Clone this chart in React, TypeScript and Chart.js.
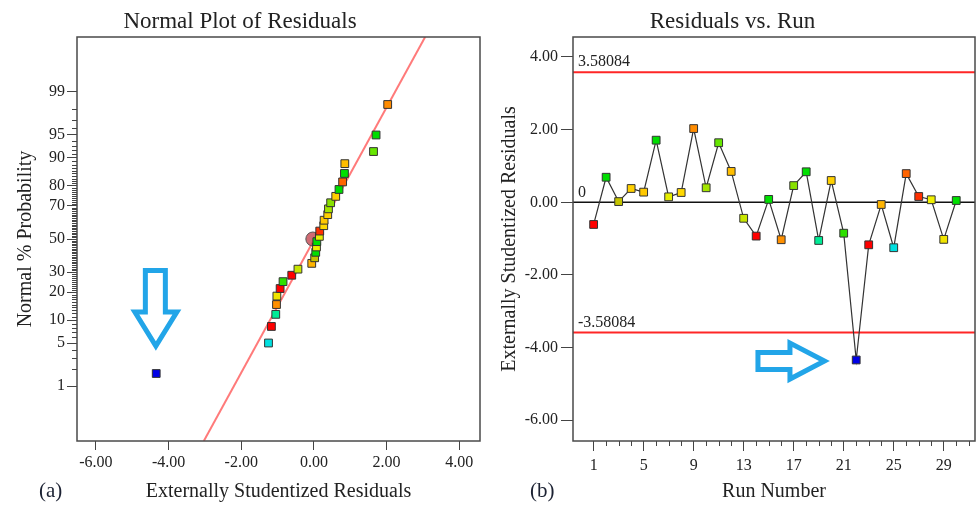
import React, { useEffect, useRef } from 'react';
import { Chart, registerables, LinearScale } from 'chart.js';

// ---------------- data ----------------
const runNumbers = [1, 2, 3, 4, 5, 6, 7, 8, 9, 10, 11, 12, 13, 14, 15, 16, 17, 18, 19, 20, 21, 22, 23, 24, 25, 26, 27, 28, 29, 30];
const residuals = [-0.61, 0.69, 0.02, 0.38, 0.28, 1.71, 0.15, 0.27, 2.03, 0.40, 1.64, 0.85, -0.44, -0.93, 0.08, -1.03, 0.46, 0.84, -1.05, 0.60, -0.85, -4.34, -1.17, -0.06, -1.25, 0.79, 0.16, 0.07, -1.02, 0.05];
const runColors = [
  '#ff0000', '#00dd00', '#c4c400', '#ffd000', '#ffc800', '#00dd00', '#e6ee00', '#ffd800', '#ff8c00', '#a4e600',
  '#66e600', '#ffbe00', '#c8e600', '#ff0000', '#00e000', '#ff9000', '#88e000', '#00e000', '#00eb96', '#ffd000',
  '#2ee000', '#0000e6', '#ff0000', '#ffb400', '#00e0e0', '#ff6400', '#ff3000', '#f0f000', '#f0e400', '#00e000',
];
// normal % probability of each ranked residual
const normalPct = [1.67, 5, 8.33, 11.67, 15, 18.33, 21.67, 25, 28.33, 31.67, 35, 38.33, 41.67, 45, 48.33, 51.67, 55, 58.33, 61.67, 65, 68.33, 71.67, 75, 78.33, 81.67, 85, 88.33, 91.67, 95, 98.33];
const probTicks = [1, 5, 10, 20, 30, 50, 70, 80, 90, 95, 99];
const residTicks = [-6, -4, -2, 0, 2, 4];
const runTicks = [1, 5, 9, 13, 17, 21, 25, 29];
const refLineX = [-3.03, 3.06];
const refLinePct = [0.07, 99.93];
const centerMark = { x: -0.03, pct: 50 };
const limitValues = [3.58084, -3.58084];
const limitLabels = ['3.58084', '-3.58084'];

// ---------------- helpers ----------------
function probit(p: number): number {
  const a = [-3.969683028665376e1, 2.209460984245205e2, -2.759285104469687e2, 1.38357751867269e2, -3.066479806614716e1, 2.506628277459239];
  const b = [-5.447609879822406e1, 1.615858368580409e2, -1.556989798598866e2, 6.680131188771972e1, -1.328068155288572e1];
  const c = [-7.784894002430293e-3, -3.223964580411365e-1, -2.400758277161838, -2.549732539343734, 4.374664141464968, 2.938163982698783];
  const d = [7.784695709041462e-3, 3.224671290700398e-1, 2.445134137142996, 3.754408661907416];
  const plow = 0.02425;
  let q: number, r: number;
  if (p < plow) {
    q = Math.sqrt(-2 * Math.log(p));
    return (((((c[0] * q + c[1]) * q + c[2]) * q + c[3]) * q + c[4]) * q + c[5]) / ((((d[0] * q + d[1]) * q + d[2]) * q + d[3]) * q + 1);
  }
  if (p <= 1 - plow) {
    q = p - 0.5; r = q * q;
    return ((((((a[0] * r + a[1]) * r + a[2]) * r + a[3]) * r + a[4]) * r + a[5]) * q) / (((((b[0] * r + b[1]) * r + b[2]) * r + b[3]) * r + b[4]) * r + 1);
  }
  q = Math.sqrt(-2 * Math.log(1 - p));
  return -(((((c[0] * q + c[1]) * q + c[2]) * q + c[3]) * q + c[4]) * q + c[5]) / ((((d[0] * q + d[1]) * q + d[2]) * q + d[3]) * q + 1);
}
function cdfFromZ(z: number): number {
  let lo = 1e-9, hi = 1 - 1e-9;
  for (let i = 0; i < 60; i++) { const m = (lo + hi) / 2; if (probit(m) < z) lo = m; else hi = m; }
  return (lo + hi) / 2;
}

class ProbitScale extends (LinearScale as any) {
  static id = 'probit';
  static defaults = {};
  determineDataLimits() {
    this.min = this.options.min;
    this.max = this.options.max;
  }
  buildTicks() {
    return probTicks.map((v) => ({ value: v }));
  }
  configure() {
    super.configure();
    this._zmin = probit(this.min / 100);
    this._zmax = probit(this.max / 100);
  }
  getPixelForValue(v: number) {
    return this.getPixelForDecimal((probit(v / 100) - this._zmin) / (this._zmax - this._zmin));
  }
  getValueForPixel(p: number) {
    const z = this._zmin + this.getDecimalForPixel(p) * (this._zmax - this._zmin);
    return 100 * cdfFromZ(z);
  }
}

Chart.register(...registerables, ProbitScale as any);

const SERIF = "'Liberation Serif', 'Times New Roman', serif";
const TXT = '#222';
const TICK = '#444';
const ARROW = '#22a5e8';

const framePlugin = {
  id: 'frame',
  afterDraw(chart: any) {
    const { ctx, chartArea: a } = chart;
    ctx.save();
    ctx.strokeStyle = '#4a4a4a';
    ctx.lineWidth = 1.5;
    ctx.strokeRect(a.left, a.top, a.right - a.left, a.bottom - a.top);
    ctx.restore();
  },
};

function drawArrow(ctx: CanvasRenderingContext2D, tx: number, ty: number, pts: number[][]) {
  ctx.save();
  ctx.beginPath();
  pts.forEach(([dx, dy], i) => (i ? ctx.lineTo(tx + dx, ty + dy) : ctx.moveTo(tx + dx, ty + dy)));
  ctx.closePath();
  ctx.lineWidth = 5;
  ctx.strokeStyle = ARROW;
  ctx.lineJoin = 'miter';
  ctx.stroke();
  ctx.restore();
}

const leftExtras = {
  id: 'leftExtras',
  afterDraw(chart: any) {
    const { ctx, chartArea: a, scales } = chart;
    const y = scales.y;
    ctx.save();
    ctx.strokeStyle = TICK;
    ctx.lineWidth = 1;
    for (let p = 1; p <= 99; p++) {
      if (probTicks.includes(p)) continue;
      const py = Math.round(y.getPixelForValue(p)) + 0.5;
      ctx.beginPath();
      ctx.moveTo(a.left - 5, py);
      ctx.lineTo(a.left, py);
      ctx.stroke();
    }
    ctx.restore();
    const tx = scales.x.getPixelForValue(-4.35);
    const ty = y.getPixelForValue(3.82);
    drawArrow(ctx, tx, ty, [[-10.5, -80.5], [9.5, -80.5], [9.5, -39], [21, -39], [0, -5], [-21, -39], [-10.5, -39]]);
  },
};

const rightUnder = {
  id: 'rightUnder',
  beforeDatasetsDraw(chart: any) {
    const { ctx, chartArea: a, scales } = chart;
    const y = scales.y;
    ctx.save();
    ctx.font = `16px ${SERIF}`;
    ctx.fillStyle = TXT;
    ctx.textBaseline = 'middle';
    ctx.textAlign = 'left';
    const y0 = y.getPixelForValue(0);
    ctx.strokeStyle = '#111';
    ctx.lineWidth = 1.6;
    ctx.beginPath(); ctx.moveTo(a.left, y0); ctx.lineTo(a.right, y0); ctx.stroke();
    ctx.fillText('0', a.left + 5, y0 - 10);
    limitValues.forEach((v, i) => {
      const py = y.getPixelForValue(v);
      ctx.strokeStyle = '#ff2626';
      ctx.lineWidth = 2;
      ctx.beginPath(); ctx.moveTo(a.left, py); ctx.lineTo(a.right, py); ctx.stroke();
      ctx.fillText(limitLabels[i], a.left + 5, py - 10);
    });
    ctx.restore();
  },
  afterDraw(chart: any) {
    const { ctx, chartArea: a, scales } = chart;
    const x = scales.x;
    ctx.save();
    ctx.strokeStyle = TICK;
    ctx.lineWidth = 1;
    for (let r = Math.ceil(x.min); r <= Math.floor(x.max); r++) {
      if (r < 1 || runTicks.includes(r)) continue;
      const px = Math.round(x.getPixelForValue(r)) + 0.5;
      ctx.beginPath(); ctx.moveTo(px, a.bottom); ctx.lineTo(px, a.bottom + 5); ctx.stroke();
    }
    ctx.restore();
    const tx = x.getPixelForValue(19.78);
    const ty = scales.y.getPixelForValue(-4.37);
    drawArrow(ctx, tx, ty, [[-70.5, -8.5], [-38.5, -8.5], [-38.5, -18], [-4, 0], [-38.5, 18], [-38.5, 8.5], [-70.5, 8.5]]);
  },
};

const tickFont = { family: SERIF, size: 16 };
const axisTitleFont = { family: SERIF, size: 20 };
const titleFont = { family: SERIF, size: 23, weight: 'normal' as const };

const fitX = (s: any) => { s.height = 66; s.paddingLeft = 0; s.paddingRight = 0; };
const fitY = (w: number) => (s: any) => { s.width = w; s.paddingTop = 0; s.paddingBottom = 0; };

export default function App() {
  const leftRef = useRef<HTMLCanvasElement>(null);
  const rightRef = useRef<HTMLCanvasElement>(null);

  useEffect(() => {
    const order = runNumbers.map((_, i) => i).sort((i, j) => residuals[i] - residuals[j]);
    const normPoints = order.map((idx, rank) => ({ x: residuals[idx], y: normalPct[rank] }));
    const normColors = order.map((idx) => runColors[idx]);

    const left = new Chart(leftRef.current as HTMLCanvasElement, {
      type: 'scatter',
      data: {
        datasets: [
          {
            data: normPoints,
            pointStyle: 'rect',
            pointRadius: 5.5,
            pointBackgroundColor: normColors,
            pointBorderColor: '#333',
            pointBorderWidth: 1,
            showLine: false,
          },
          {
            data: [{ x: centerMark.x, y: centerMark.pct }],
            pointStyle: 'circle',
            pointRadius: 7,
            pointBackgroundColor: 'rgba(196,70,80,0.8)',
            pointBorderColor: '#555',
            pointBorderWidth: 1,
          },
          {
            data: refLineX.map((x, i) => ({ x, y: refLinePct[i] })),
            showLine: true,
            borderColor: '#ff7a7a',
            borderWidth: 2,
            pointRadius: 0,
          },
        ],
      } as any,
      options: {
        responsive: false,
        animation: false,
        layout: { autoPadding: false, padding: { left: 0, right: 10, top: 0, bottom: 0 } },
        plugins: {
          legend: { display: false },
          tooltip: { enabled: false },
          title: { display: true, text: 'Normal Plot of Residuals', font: titleFont, color: TXT, padding: { top: 8, bottom: 1.4 } },
        },
        scales: {
          x: {
            type: 'linear',
            min: -6.52,
            max: 4.57,
            afterBuildTicks: (s: any) => { s.ticks = residTicks.map((v) => ({ value: v })); },
            afterFit: fitX,
            grid: { drawOnChartArea: false, tickLength: 9, color: TICK, lineWidth: 1 },
            border: { display: false },
            ticks: { font: tickFont, color: TXT, padding: 3, maxRotation: 0, autoSkip: false, callback: (v: any) => Number(v).toFixed(2) },
            title: { display: true, text: 'Externally Studentized Residuals', font: axisTitleFont, color: TXT, padding: { top: 0, bottom: 3 } },
          },
          y: {
            type: 'probit',
            min: 0.07,
            max: 99.93,
            afterFit: fitY(77),
            grid: { drawOnChartArea: false, tickLength: 10, color: TICK, lineWidth: 1 },
            border: { display: false },
            ticks: { font: tickFont, color: TXT, padding: 2, autoSkip: false, callback: (v: any) => String(v) },
            title: { display: true, text: 'Normal % Probability', font: axisTitleFont, color: TXT, padding: { top: 14, bottom: 0 } },
          },
        } as any,
      },
      plugins: [framePlugin, leftExtras],
    });

    const right = new Chart(rightRef.current as HTMLCanvasElement, {
      type: 'scatter',
      data: {
        datasets: [
          {
            data: runNumbers.map((r, i) => ({ x: r, y: residuals[i] })),
            showLine: true,
            borderColor: '#333',
            borderWidth: 1.2,
            pointStyle: 'rect',
            pointRadius: 5.5,
            pointBackgroundColor: runColors,
            pointBorderColor: '#333',
            pointBorderWidth: 1,
          },
        ],
      } as any,
      options: {
        responsive: false,
        animation: false,
        layout: { autoPadding: false, padding: { left: 0, right: 1, top: 0, bottom: 0 } },
        plugins: {
          legend: { display: false },
          tooltip: { enabled: false },
          title: { display: true, text: 'Residuals vs. Run', font: titleFont, color: TXT, padding: { top: 8, bottom: 1.4 } },
        },
        scales: {
          x: {
            type: 'linear',
            min: -0.65,
            max: 31.5,
            afterBuildTicks: (s: any) => { s.ticks = runTicks.map((v) => ({ value: v })); },
            afterFit: fitX,
            grid: { drawOnChartArea: false, tickLength: 10, color: TICK, lineWidth: 1 },
            border: { display: false },
            ticks: { font: tickFont, color: TXT, padding: 5, maxRotation: 0, autoSkip: false, callback: (v: any) => String(v) },
            title: { display: true, text: 'Run Number', font: axisTitleFont, color: TXT, padding: { top: 0, bottom: 3 } },
          },
          y: {
            type: 'linear',
            min: -6.57,
            max: 4.55,
            afterBuildTicks: (s: any) => { s.ticks = residTicks.map((v) => ({ value: v })); },
            afterFit: fitY(83),
            grid: { drawOnChartArea: false, tickLength: 12, color: TICK, lineWidth: 1 },
            border: { display: false },
            ticks: { font: tickFont, color: TXT, padding: 3, autoSkip: false, callback: (v: any) => Number(v).toFixed(2) },
            title: { display: true, text: 'Externally Studentized Residuals', font: axisTitleFont, color: TXT, padding: { top: 8, bottom: 0 } },
          },
        } as any,
      },
      plugins: [rightUnder, framePlugin],
    });

    return () => {
      left.destroy();
      right.destroy();
    };
  }, []);

  const panelLabel: React.CSSProperties = {
    position: 'absolute',
    top: 478,
    fontFamily: SERIF,
    fontSize: 21,
    lineHeight: '24px',
    color: '#1c2233',
  };

  return (
    <div style={{ position: 'absolute', left: 0, top: 0, width: 976, height: 507, background: '#fff', overflow: 'hidden' }}>
      <canvas ref={leftRef} width={490} height={507} style={{ position: 'absolute', left: 0, top: 0 }} />
      <canvas ref={rightRef} width={486} height={507} style={{ position: 'absolute', left: 490, top: 0 }} />
      <span style={{ ...panelLabel, left: 39 }}>(a)</span>
      <span style={{ ...panelLabel, left: 530 }}>(b)</span>
    </div>
  );
}
